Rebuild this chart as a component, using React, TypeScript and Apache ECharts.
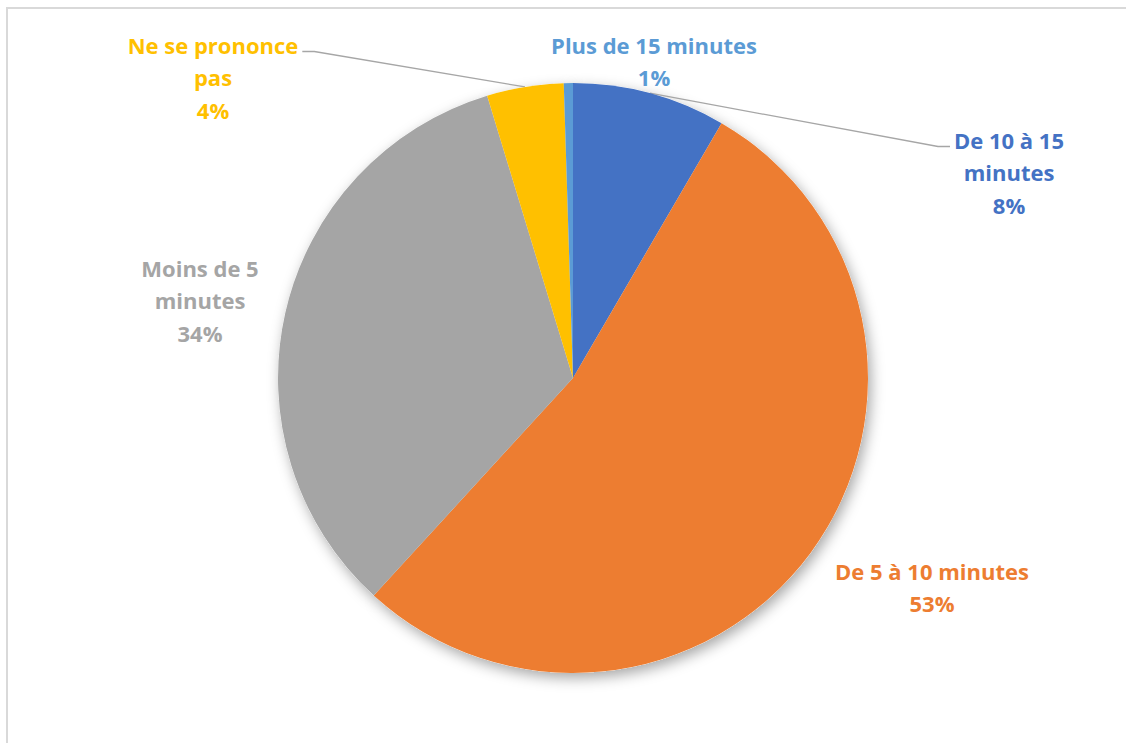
import React, { useEffect, useRef } from "react";
import * as echarts from "echarts";

// ---- data ----
const categories = [
  "De 10 à 15 minutes",
  "De 5 à 10 minutes",
  "Moins de 5 minutes",
  "Ne se prononce pas",
  "Plus de 15 minutes",
];
const values = [8.4, 53.4, 33.5, 4.2, 0.5];
const labelTexts = [
  "De 10 à 15\nminutes",
  "De 5 à 10 minutes",
  "Moins de 5\nminutes",
  "Ne se prononce\npas",
  "Plus de 15 minutes",
];
const colors = ["#4472C4", "#ED7D31", "#A5A5A5", "#FFC000", "#5B9BD5"];
const withLeader = [true, false, false, true, false];

// ---- layout (label centres, px) ----
const labelCentres: number[][] = [
  [1009, 172],
  [932, 587],
  [200, 300],
  [213, 77],
  [654, 61],
];
const LINE_H = 32.5;

export default function App() {
  const ref = useRef<HTMLDivElement>(null);

  useEffect(() => {
    document.body.style.margin = "0";
    document.body.style.overflow = "hidden";
    if (!ref.current) return;
    const chart = echarts.init(ref.current, undefined, { renderer: "svg" });

    const data = categories.map((name, i) => ({
      name,
      value: values[i],
      itemStyle: { color: colors[i] },
      label: { color: colors[i] },
      labelLine: { show: withLeader[i] },
    }));

    chart.setOption({
      animation: false,
      backgroundColor: "transparent",
      series: [
        {
          name: "shadow",
          type: "pie",
          silent: true,
          center: [573, 378],
          radius: 295,
          startAngle: 90,
          z: 1,
          label: { show: false },
          labelLine: { show: false },
          itemStyle: {
            color: "#ffffff",
            shadowBlur: 14,
            shadowOffsetX: 3,
            shadowOffsetY: 5,
            shadowColor: "rgba(0,0,0,0.35)",
          },
          data: categories.map((name, i) => ({ name, value: values[i] })),
        },
        {
          name: "Durée",
          type: "pie",
          center: [573, 378],
          radius: 295,
          startAngle: 90,
          clockwise: true,
          z: 2,
          avoidLabelOverlap: false,
          itemStyle: { borderWidth: 0 },
          label: {
            show: true,
            position: "outside",
            fontFamily: "Open Sans",
            fontWeight: "bold",
            fontSize: 22,
            lineHeight: LINE_H,
            align: "center",
            formatter: (p: any) =>
              `${labelTexts[p.dataIndex]}\n${Math.round(p.percent)}%`,
          },
          labelLine: {
            show: true,
            length: 10,
            length2: 10,
            lineStyle: { color: "#A6A6A6", width: 1.3 },
          },
          labelLayout: (p: any) => {
            const c = labelCentres[p.dataIndex];
            const res: any = {
              x: c[0],
              y: c[1],
              align: "center",
              verticalAlign: "middle",
            };
            if (withLeader[p.dataIndex] && p.labelLinePoints) {
              const a = p.labelLinePoints[0];
              const w = p.labelRect.width;
              const h = p.labelRect.height;
              const side = c[0] < a[0] ? 1 : -1;
              const ex = c[0] + side * (w / 2 + 4);
              const ey = c[1] - h / 2 + LINE_H / 2 + 7;
              res.labelLinePoints = [
                [a[0], a[1]],
                [ex + side * 12, ey],
                [ex, ey],
              ];
            }
            return res;
          },
          data,
        },
      ],
    });

    return () => chart.dispose();
  }, []);

  return (
    <div style={{ position: "relative", width: 1126, height: 743, overflow: "hidden", background: "#fff" }}>
      <div
        style={{
          position: "absolute",
          left: 6,
          top: 7,
          width: 1300,
          height: 900,
          borderTop: "2px solid #D9D9D9",
          borderLeft: "2px solid #D9D9D9",
          boxSizing: "border-box",
        }}
      />
      <div ref={ref} style={{ position: "absolute", left: 0, top: 0, width: 1126, height: 743 }} />
    </div>
  );
}
